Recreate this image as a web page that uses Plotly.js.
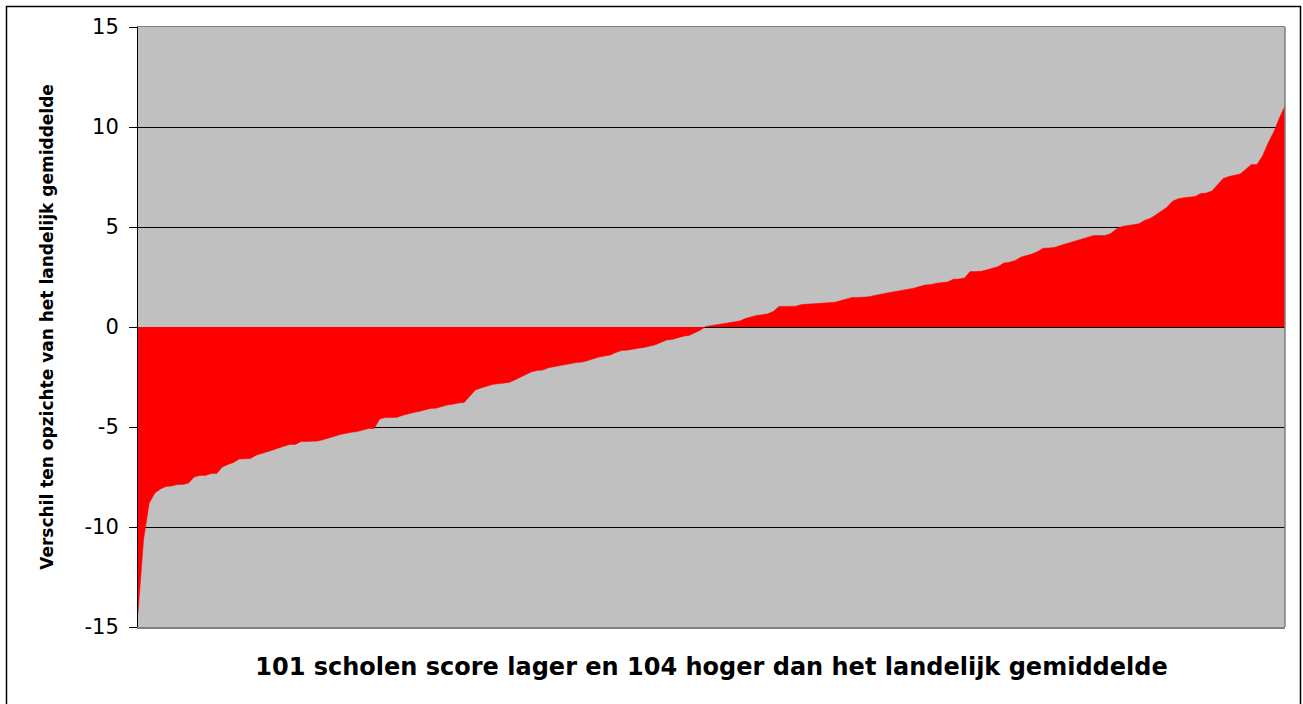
<!DOCTYPE html>
<html>
<head>
<meta charset="utf-8">
<script src="https://cdn.plot.ly/plotly-3.0.1.min.js"></script>
<style>html,body{margin:0;padding:0;background:#fff;}#chart{width:1303px;height:704px;}</style>
</head>
<body>
<div id="chart"></div>
<script>
// Difference per school vs national average, sorted ascending (205 schools: 101 lower, 104 higher)
const scores = [
-14.3,-10.6,-8.8,-8.3,-8.1,-7.97,-7.95,-7.88,-7.87,-7.8,
-7.5,-7.43,-7.42,-7.33,-7.33,-7.0,-6.87,-6.77,-6.6,-6.58,
-6.58,-6.41,-6.33,-6.25,-6.15,-6.05,-5.96,-5.87,-5.87,-5.72,
-5.72,-5.72,-5.7,-5.63,-5.56,-5.46,-5.37,-5.31,-5.26,-5.23,
-5.17,-5.08,-5.07,-4.6,-4.53,-4.52,-4.52,-4.42,-4.34,-4.28,
-4.22,-4.14,-4.07,-4.06,-3.98,-3.9,-3.86,-3.8,-3.78,-3.45,
-3.15,-3.05,-2.95,-2.88,-2.84,-2.81,-2.77,-2.65,-2.51,-2.34,
-2.24,-2.18,-2.15,-2.04,-1.98,-1.93,-1.88,-1.83,-1.78,-1.75,
-1.68,-1.59,-1.5,-1.45,-1.4,-1.27,-1.18,-1.16,-1.1,-1.06,
-1.02,-0.95,-0.89,-0.77,-0.65,-0.62,-0.54,-0.46,-0.42,-0.3,
-0.16,0.03,0.08,0.1,0.16,0.22,0.26,0.3,0.42,0.5,
0.58,0.61,0.66,0.78,1.03,1.03,1.03,1.04,1.12,1.14,
1.15,1.19,1.2,1.21,1.24,1.32,1.41,1.48,1.48,1.48,
1.51,1.58,1.62,1.69,1.74,1.79,1.83,1.87,1.94,2.02,
2.1,2.12,2.19,2.22,2.25,2.39,2.4,2.45,2.77,2.77,
2.79,2.86,2.93,3.02,3.2,3.24,3.32,3.49,3.57,3.65,
3.77,3.94,3.95,3.98,4.07,4.16,4.25,4.32,4.42,4.51,
4.58,4.58,4.58,4.67,4.9,5.03,5.08,5.13,5.16,5.33,
5.43,5.6,5.78,5.99,6.29,6.41,6.46,6.48,6.53,6.67,
6.7,6.8,7.1,7.42,7.52,7.58,7.65,7.88,8.12,8.12,
8.55,9.2,9.75,10.45,11.05
];
const schools = scores.map((_, i) => i + 1);
const yTickValues = [-15, -10, -5, 0, 5, 10, 15];
const yTickLabels = ['-15', '-10', '-5', '0', '5', '10', '15'];
const xTitle = '101 scholen score lager en 104 hoger dan het landelijk gemiddelde';
const yTitle = 'Verschil ten opzichte van het landelijk gemiddelde';

const font = '"DejaVu Sans", Arial, sans-serif';

const trace = {
  x: schools,
  y: scores,
  type: 'scatter',
  mode: 'lines',
  fill: 'tozeroy',
  fillcolor: '#FF0000',
  line: {color: '#FF0000', width: 0.5},
  hoverinfo: 'x+y'
};

const layout = {
  width: 1303,
  height: 704,
  margin: {l: 138, r: 18, t: 27, b: 77, pad: 0},
  paper_bgcolor: '#FFFFFF',
  plot_bgcolor: '#C0C0C0',
  showlegend: false,
  font: {family: font, color: '#000'},
  xaxis: {
    range: [1, schools.length],
    showgrid: false,
    zeroline: false,
    showticklabels: false,
    ticks: '',
    showline: true,
    linecolor: '#808080',
    linewidth: 1.5,
    mirror: true,
    title: {text: '<b>' + xTitle + '</b>', font: {family: font, size: 24, color: '#000'}, standoff: 30}
  },
  yaxis: {
    range: [-15, 15],
    tickvals: yTickValues,
    ticktext: yTickLabels,
    showgrid: true,
    gridcolor: '#000000',
    gridwidth: 1,
    zeroline: false,
    showline: true,
    linecolor: '#000000',
    linewidth: 1,
    ticks: 'outside',
    ticklen: 8,
    tickcolor: '#000000',
    tickfont: {family: font, size: 21, color: '#000'},
    ticklabelstandoff: 6,
    title: {text: '<b>' + yTitle + '</b>', font: {family: font, size: 17, color: '#000'}, standoff: 26}
  },
  shapes: [
    {type: 'line', xref: 'paper', yref: 'paper', x0: 1, x1: 1, y0: 0, y1: 1,
     line: {color: '#808080', width: 1.5}, layer: 'above'},
    {type: 'rect', xref: 'paper', yref: 'paper',
     x0: (6.5 - 138) / 1147, x1: (1300.5 - 138) / 1147,
     y0: (627 - 720) / 600, y1: (627 - 6.5) / 600,
     line: {color: '#000000', width: 1.5}, fillcolor: 'rgba(0,0,0,0)', layer: 'above'}
  ]
};

Plotly.newPlot('chart', [trace], layout, {displayModeBar: false, staticPlot: true});
</script>
</body>
</html>
